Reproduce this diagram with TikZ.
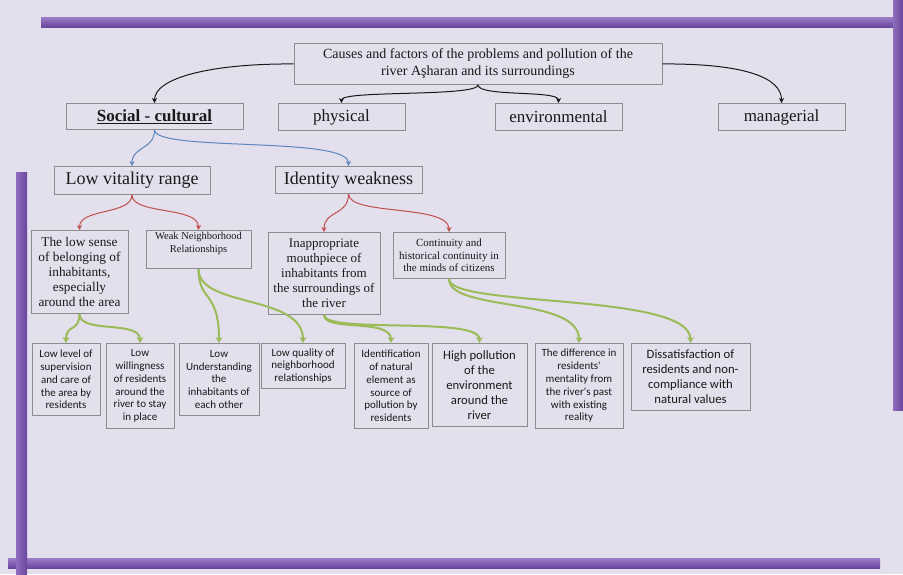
\documentclass[tikz,border=0pt]{standalone}
\usepackage{fontspec}
\setmainfont{Liberation Serif}
\newfontfamily\calfont{Carlito}
\usetikzlibrary{arrows.meta}
\definecolor{bgc}{HTML}{E3DFEC}
\definecolor{barc}{HTML}{6A469F}
\definecolor{barl}{HTML}{9C7EC8}
\definecolor{brd}{HTML}{8C8C8C}
\definecolor{bluec}{HTML}{5B87BE}
\definecolor{redc}{HTML}{C0504D}
\definecolor{grnc}{HTML}{9BBB59}
\newcommand{\fs}[2]{\fontsize{#1}{#2}\selectfont}
\tikzset{
  box/.style={draw=brd, line width=0.9pt, inner sep=2pt, align=center, anchor=north, text=black!90},
  blk/.style={draw=black!90, line width=1pt, -{Stealth[length=5pt,width=5pt]}},
  blu/.style={draw=bluec, line width=1pt, -{Stealth[length=5pt,width=5pt]}},
  rd/.style={draw=redc, line width=1pt, -{Stealth[length=5pt,width=5pt]}},
  gr/.style={draw=grnc, line width=2pt, -{Stealth[length=6pt,width=7pt]}},
  hbar/.style={top color=barl, bottom color=barc, draw=none},
  vbar/.style={left color=barl!70!barc, right color=barc, draw=none}
}
\begin{document}
\begin{tikzpicture}[x=1pt,y=-1pt]
\useasboundingbox (0,0) rectangle (903,574);
\fill[bgc] (0,0) rectangle (903,574);
% bars
\shade[hbar] (41,17) rectangle (903,27);
\shade[hbar] (8,558) rectangle (880,568);
\shade[vbar] (893,0) rectangle (903,410);
\shade[vbar] (16,172) rectangle (27,574);
% level 0
\node[box, minimum width=368pt, minimum height=41pt, font=\fs{14}{17}] (root) at (478,43)
  {Causes and factors of the problems and pollution of the\\river Aşharan and its surroundings};
% level 1
\node[box, minimum width=177pt, minimum height=26pt, font=\fs{17}{19}] (soc) at (154.5,103) {\underline{\textbf{Social - cultural}}};
\node[box, minimum width=127pt, minimum height=27pt, font=\fs{17}{19}] (phys) at (341.5,103) {physical};
\node[box, minimum width=127pt, minimum height=27pt, font=\fs{17}{19}] (env) at (558.5,103) {environmental};
\node[box, minimum width=127pt, minimum height=27pt, font=\fs{17}{19}] (man) at (781.5,103) {managerial};
% level 2
\node[box, minimum width=156pt, minimum height=28pt, font=\fs{18}{20}] (lvr) at (132,166) {Low vitality range};
\node[box, minimum width=147pt, minimum height=27pt, font=\fs{18}{20}] (idw) at (348.5,166) {Identity weakness};
% level 3
\node[box, minimum width=97pt, minimum height=83pt, font=\fs{13.3}{15}] (lsb) at (79.5,230)
  {The low sense\\of belonging of\\inhabitants,\\especially\\around the area};
\node[box, minimum width=105pt, minimum height=32pt, font=\fs{10.5}{12.5}] (wnr) at (198.5,230)
  {Weak Neighborhood\\Relationships\\[2pt]};
\node[box, minimum width=112pt, minimum height=82pt, font=\fs{13}{15}] (inm) at (324,232)
  {Inappropriate\\mouthpiece of\\inhabitants from\\the surroundings of\\the river};
\node[box, minimum width=112pt, minimum height=46pt, font=\fs{11}{12.7}] (con) at (449,232)
  {Continuity and\\historical continuity in\\the minds of citizens};
% level 4
\node[box, minimum width=68pt, minimum height=72pt, font=\calfont\fs{11}{12.8}] (b1) at (66,343)
  {Low level of\\supervision\\and care of\\the area by\\residents};
\node[box, minimum width=68pt, minimum height=85pt, font=\calfont\fs{11}{12.8}] (b2) at (140,343)
  {Low\\willingness\\of residents\\around the\\river to stay\\in place};
\node[box, minimum width=80pt, minimum height=72pt, font=\calfont\fs{11}{12.8}] (b3) at (219,343)
  {Low\\Understanding\\the\\inhabitants of\\each other};
\node[box, minimum width=84pt, minimum height=45pt, font=\calfont\fs{11}{12.8}] (b4) at (303,343)
  {Low quality of\\neighborhood\\relationships};
\node[box, minimum width=74pt, minimum height=85pt, font=\calfont\fs{11}{12.8}] (b5) at (391,343)
  {Identification\\of natural\\element as\\source of\\pollution by\\residents};
\node[box, minimum width=95pt, minimum height=83pt, font=\calfont\fs{12.7}{15}] (b6) at (479.5,343)
  {High pollution\\of the\\environment\\around the\\river};
\node[box, minimum width=88pt, minimum height=85pt, font=\calfont\fs{11}{12.8}] (b7) at (579,343)
  {The difference in\\residents'\\mentality from\\the river's past\\with existing\\reality};
\node[box, minimum width=119pt, minimum height=67pt, font=\calfont\fs{12.7}{15}] (b8) at (690.5,343)
  {Dissatisfaction of\\residents and non-\\compliance with\\natural values};
% connectors black
\draw[blk] (root.west) .. controls (210,63.5) and (154.5,78) .. (soc.north);
\draw[blk] (root.east) .. controls (746,63.5) and (781.5,78) .. (man.north);
\draw[blk] (root.south) .. controls (478,97) and (341.5,90) .. (phys.north);
\draw[blk] (root.south) .. controls (478,97) and (558.5,90) .. (env.north);
% blue
\draw[blu] (soc.south) .. controls (154.5,150) and (132,146) .. (lvr.north);
\draw[blu] (soc.south) .. controls (154.5,152) and (348.5,136) .. (idw.north);
% red
\draw[rd] (lvr.south) .. controls (132,215) and (79.5,208) .. (lsb.north);
\draw[rd] (lvr.south) .. controls (132,215) and (198.5,206) .. (wnr.north);
\draw[rd] (idw.south) .. controls (348.5,216) and (324,210) .. (inm.north);
\draw[rd] (idw.south) .. controls (348.5,216) and (449,204) .. (con.north);
% green
\draw[gr] (lsb.south) .. controls (79.5,332) and (66,324) .. (b1.north);
\draw[gr] (lsb.south) .. controls (79.5,334) and (140,320) .. (b2.north);
\draw[gr] (wnr.south) .. controls (198.5,302) and (219,290) .. (b3.north);
\draw[gr] (wnr.south) .. controls (198.5,308) and (303,294) .. (b4.north);
\draw[gr] (inm.south) .. controls (324,332) and (391,318) .. (b5.north);
\draw[gr] (inm.south) .. controls (324,334) and (479.5,316) .. (b6.north);
\draw[gr] (con.south) .. controls (449,312) and (579,296) .. (b7.north);
\draw[gr] (con.south) .. controls (449,308) and (690.5,292) .. (b8.north);
\end{tikzpicture}
\end{document}
